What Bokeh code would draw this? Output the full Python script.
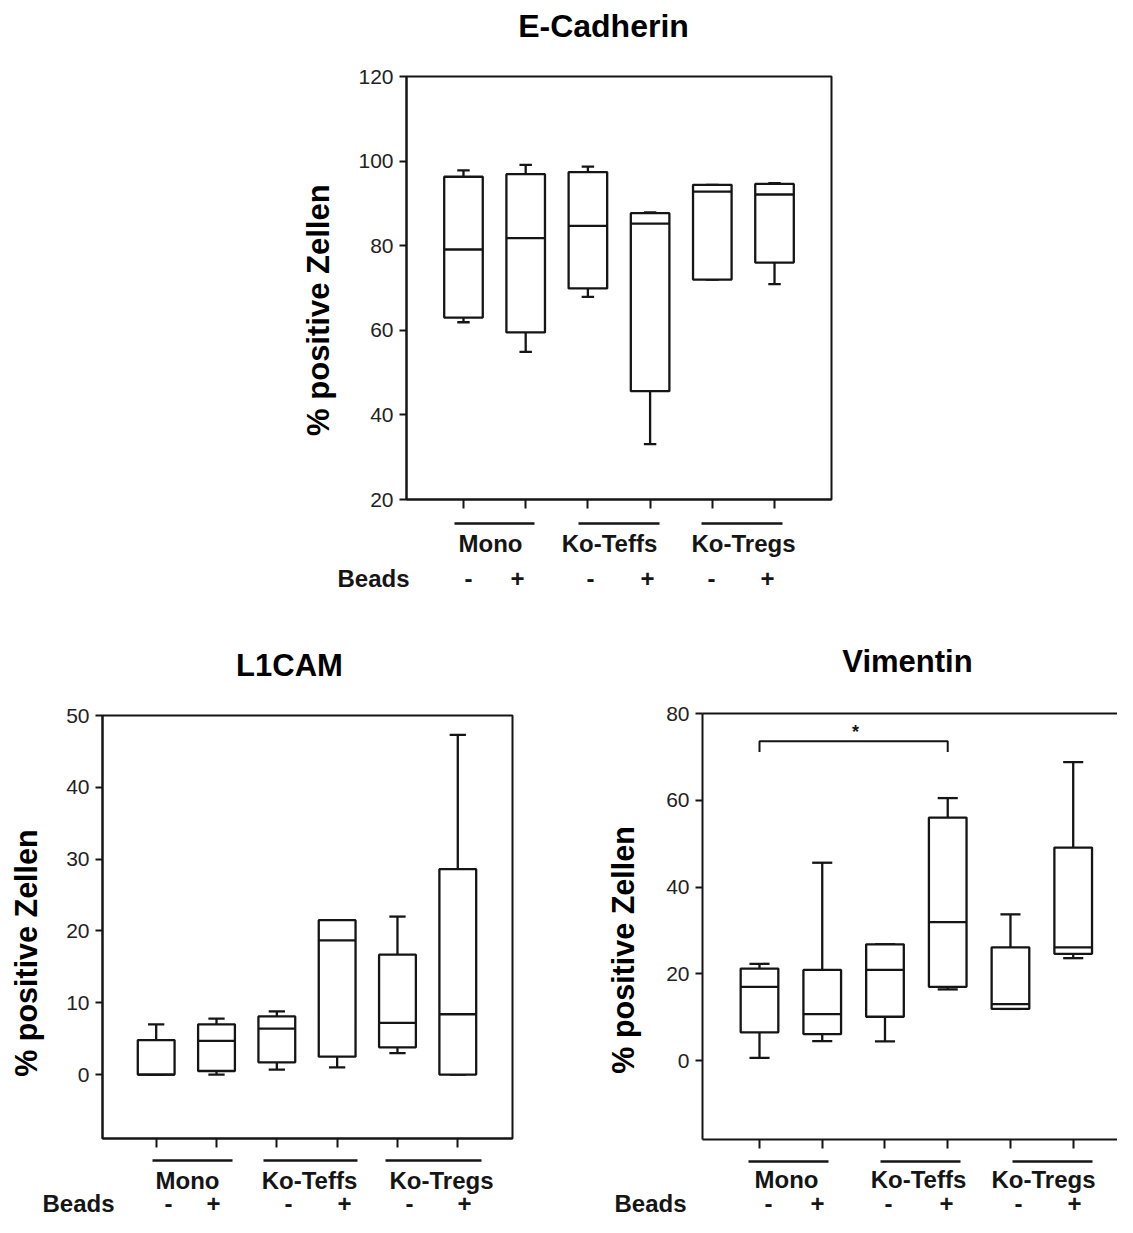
import math
from bokeh.plotting import figure
from bokeh.models import LinearAxis, FixedTicker, Range1d, ColumnDataSource, Label
from bokeh.layouts import column, row
from bokeh.embed import file_html
from bokeh.resources import INLINE
from bokeh.core.properties import value

# ---------------- data ----------------
groups = ["Mono", "Ko-Teffs", "Ko-Tregs"]
beads = ["-", "+", "-", "+", "-", "+"]
positions = [1, 2, 3, 4, 5, 6]

ecad_min = [61.9, 54.9, 67.9, 33.1, 72.0, 70.9]
ecad_q1 = [63.0, 59.5, 69.9, 45.6, 72.0, 76.0]
ecad_med = [79.1, 81.8, 84.7, 85.2, 92.8, 92.1]
ecad_q3 = [96.3, 96.9, 97.4, 87.7, 94.4, 94.6]
ecad_max = [97.8, 99.1, 98.7, 87.9, 94.4, 94.8]
ecad_yticks = [20, 40, 60, 80, 100, 120]

l1_min = [0.0, 0.0, 0.7, 1.0, 3.0, 0.0]
l1_q1 = [0.0, 0.5, 1.7, 2.5, 3.8, 0.0]
l1_med = [0.0, 4.7, 6.4, 18.7, 7.2, 8.4]
l1_q3 = [4.8, 7.0, 8.1, 21.5, 16.7, 28.6]
l1_max = [7.0, 7.8, 8.8, 21.5, 22.0, 47.3]
l1_yticks = [0, 10, 20, 30, 40, 50]

vim_min = [0.6, 4.5, 4.4, 16.4, 11.9, 23.6]
vim_q1 = [6.5, 6.1, 10.1, 17.0, 11.9, 24.6]
vim_med = [17.0, 10.7, 20.9, 31.9, 13.0, 26.1]
vim_q3 = [21.2, 20.9, 26.8, 56.0, 26.1, 49.1]
vim_max = [22.3, 45.6, 26.8, 60.5, 33.7, 68.8]
vim_yticks = [0, 20, 40, 60, 80]

# significance bracket (Vimentin): between boxes 1 and 4
sig_from, sig_to = 1, 4
sig_y, sig_drop = 73.6, 71.1
sig_text = "*"

FONT = "Liberation Sans"
INK = "#151515"
YLABEL = "% positive Zellen"


def blank(w, h):
    """A figure whose frame is its whole canvas; coordinates are pixels, y from top."""
    f = figure(width=w, height=h, output_backend="svg", toolbar_location=None,
               x_range=Range1d(0, w), y_range=Range1d(0, h),
               x_axis_type=None, y_axis_type=None,
               min_border_left=0, min_border_right=0, min_border_top=0, min_border_bottom=0)
    f.outline_line_color = None
    f.background_fill_color = "white"
    f.border_fill_color = "white"
    return f


def put_text(f, h, xs, ys, texts, size, angle=0.0, color=INK):
    f.text(x=xs, y=[h - y for y in ys], text=texts, text_font=value(FONT),
           text_font_size=value(size), text_font_style="bold", text_color=color,
           text_align="center", text_baseline="middle", angle=angle)


def make_panel(spec, mins, q1s, meds, q3s, maxs, yticks):
    X0, Y0 = spec["origin"]
    W, H = spec["size"]
    fl, ft, fr, fb = spec["frame"]
    x0, x1 = spec["xrange"]
    y0, y1 = spec["yrange"]
    top_h = spec["title_h"]          # height of title strip
    mid_bottom = spec["mid_bottom"]  # absolute y where plot row ends
    lab_w = spec["ylab_w"]           # width of y-label strip
    mid_h = mid_bottom - (Y0 + top_h)
    bot_h = Y0 + H - mid_bottom

    # --- title strip
    tf = blank(W, top_h)
    tx, ty = spec["title_at"]
    put_text(tf, top_h, [tx - X0], [ty - Y0], [spec["title"]], spec["title_size"], color="black")

    # --- y label strip
    lf = blank(lab_w, mid_h)
    lx, ly = spec["ylabel_at"]
    put_text(lf, mid_h, [lx - X0], [ly - (Y0 + top_h)], [YLABEL], spec["ylabel_size"],
             angle=math.pi / 2, color="black")

    # --- main plot
    mx = X0 + lab_w
    my = Y0 + top_h
    mw = W - lab_w
    p = figure(width=mw, height=mid_h, output_backend="svg", toolbar_location=None,
               x_range=Range1d(x0, x1), y_range=Range1d(y0, y1),
               x_axis_type=None, y_axis_type=None,
               min_border_left=fl - mx, min_border_right=mx + mw - fr,
               min_border_top=ft - my, min_border_bottom=my + mid_h - fb)
    p.background_fill_color = "white"
    p.border_fill_color = "white"
    if spec.get("open_right"):
        p.outline_line_color = None
        topax = LinearAxis(ticker=FixedTicker(ticks=[], minor_ticks=[]), axis_line_width=2,
                           axis_line_color=INK, major_tick_out=0, major_tick_in=0,
                           minor_tick_out=0, minor_tick_in=0, major_label_standoff=0)
        p.add_layout(topax, "above")
    else:
        p.outline_line_color = INK
        p.outline_line_width = 2

    yax = LinearAxis(ticker=FixedTicker(ticks=yticks, minor_ticks=[]), axis_line_width=2,
                     axis_line_color=INK, major_tick_line_width=2, major_tick_line_color=INK,
                     major_tick_out=7, major_tick_in=0, minor_tick_out=0, minor_tick_in=0,
                     major_label_text_font=FONT, major_label_text_font_size=spec["tick_size"],
                     major_label_text_color="#222222", major_label_standoff=spec["tick_standoff"])
    p.add_layout(yax, "left")
    # x axis: group ticks drawn as (unlabelled) minor ticks at each box position
    xax = LinearAxis(ticker=FixedTicker(ticks=[], minor_ticks=positions), axis_line_width=2,
                     axis_line_color=INK, major_tick_out=0, major_tick_in=0,
                     minor_tick_line_width=2, minor_tick_line_color=INK,
                     minor_tick_out=9, minor_tick_in=0, major_label_standoff=0)
    p.add_layout(xax, "below")

    bw = spec["box_w"]
    cw = spec["cap_w"]
    src = ColumnDataSource(dict(
        x=positions, lo=mins, q1=q1s, med=meds, q3=q3s, hi=maxs,
        bl=[x - bw / 2 for x in positions], br=[x + bw / 2 for x in positions],
        cl=[x - cw / 2 for x in positions], cr=[x + cw / 2 for x in positions],
    ))
    lw = 2.3
    p.segment(x0="x", y0="q3", x1="x", y1="hi", source=src, line_color=INK, line_width=lw)
    p.segment(x0="x", y0="q1", x1="x", y1="lo", source=src, line_color=INK, line_width=lw)
    p.segment(x0="cl", y0="hi", x1="cr", y1="hi", source=src, line_color=INK, line_width=lw)
    p.segment(x0="cl", y0="lo", x1="cr", y1="lo", source=src, line_color=INK, line_width=lw)
    p.quad(left="bl", right="br", bottom="q1", top="q3", source=src,
           fill_color="white", line_color=INK, line_width=lw)
    p.segment(x0="bl", y0="med", x1="br", y1="med", source=src, line_color=INK, line_width=lw)

    # --- category strip below
    bf = blank(W, bot_h)
    oy = spec["overline_y"] - mid_bottom
    ol = spec["overlines"]
    bf.segment(x0=[a - X0 for a, b in ol], x1=[b - X0 for a, b in ol],
               y0=[bot_h - oy] * len(ol), y1=[bot_h - oy] * len(ol), line_color=INK, line_width=2.6)
    gy = spec["group_y"] - mid_bottom
    put_text(bf, bot_h, [g - X0 for g in spec["group_x"]], [gy] * 3, groups, "24px")
    bx, by = spec["beads_at"]
    put_text(bf, bot_h, [bx - X0], [by - mid_bottom], ["Beads"], "24px")
    put_text(bf, bot_h, [s - X0 for s in spec["pm_x"]], [by - mid_bottom] * 6, beads, "24px")

    lay = column(tf, row(lf, p, spacing=0), bf, spacing=0)
    return lay, p


ecad_spec = dict(title="E-Cadherin", origin=(0, 0), size=(1117, 600), frame=(406, 76, 831, 499),
                 xrange=(0.084, 6.916), yrange=(20, 120), box_w=0.62, cap_w=0.2,
                 title_h=60, mid_bottom=518, ylab_w=345, tick_size="21px", tick_standoff=6,
                 title_at=(603, 25), title_size="32px", ylabel_at=(318, 313), ylabel_size="31px",
                 overline_y=523, overlines=[(454, 534), (578, 659), (701, 782)],
                 group_x=[490, 609, 743], group_y=543,
                 beads_at=(373, 578), pm_x=[468, 517, 590, 647, 711, 767])

l1_spec = dict(title="L1CAM", origin=(0, 600), size=(597, 617), frame=(102, 715, 512, 1138),
               xrange=(0.11, 6.907), yrange=(-8.9, 50), box_w=0.61, cap_w=0.27,
               title_h=100, mid_bottom=1154, ylab_w=50, tick_size="21px", tick_standoff=6,
               title_at=(289, 665), title_size="31px", ylabel_at=(25, 955), ylabel_size="30.5px",
               overline_y=1160, overlines=[(152, 232), (263, 357), (385, 481)],
               group_x=[187, 309, 441], group_y=1180,
               beads_at=(78, 1203), pm_x=[168, 213, 288, 344, 409, 464])

vim_spec = dict(title="Vimentin", origin=(597, 600), size=(520, 617), frame=(702, 713, 1117, 1139),
                xrange=(0.0915, 6.706), yrange=(-18.2, 80), box_w=0.6, cap_w=0.32, open_right=True,
                title_h=100, mid_bottom=1154, ylab_w=45, tick_size="21px", tick_standoff=6,
                title_at=(907, 661), title_size="31px", ylabel_at=(622, 952), ylabel_size="30.5px",
                overline_y=1161, overlines=[(748, 828), (880, 960), (1012, 1092)],
                group_x=[786, 918, 1043], group_y=1179,
                beads_at=(650, 1203), pm_x=[768, 817, 888, 946, 1018, 1074])

top_lay, p1 = make_panel(ecad_spec, ecad_min, ecad_q1, ecad_med, ecad_q3, ecad_max, ecad_yticks)
l1_lay, p2 = make_panel(l1_spec, l1_min, l1_q1, l1_med, l1_q3, l1_max, l1_yticks)
vim_lay, p3 = make_panel(vim_spec, vim_min, vim_q1, vim_med, vim_q3, vim_max, vim_yticks)

# significance bracket on Vimentin
p3.line(x=[sig_from, sig_from, sig_to, sig_to], y=[sig_drop, sig_y, sig_y, sig_drop],
        line_color=INK, line_width=2)
p3.add_layout(Label(x=2.53, y=sig_y + 2.2, text=sig_text, text_font=FONT,
                    text_font_size="18px", text_font_style="bold", text_color=INK,
                    text_align="center", text_baseline="middle"))

layout = column(top_lay, row(l1_lay, vim_lay, spacing=0), spacing=0)
open("out.html", "w").write(file_html(layout, INLINE))
